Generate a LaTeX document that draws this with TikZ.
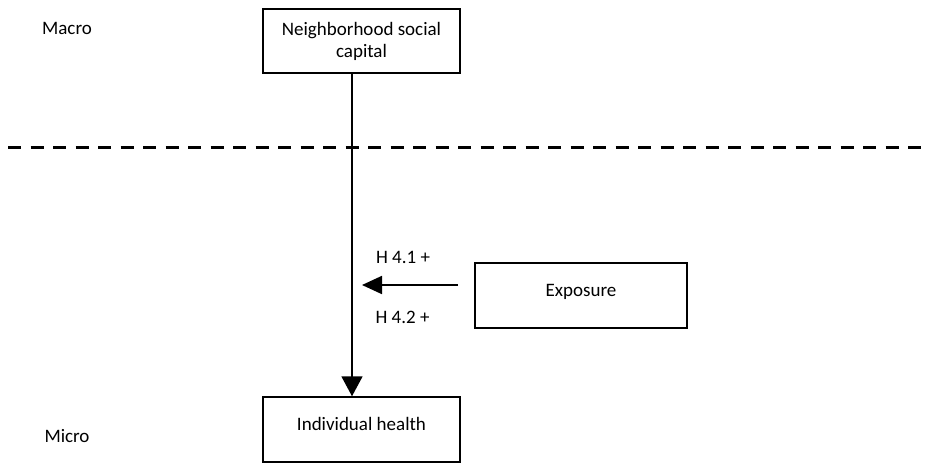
\documentclass[tikz,border=0pt]{standalone}
\usepackage{fontspec}
\setmainfont{Carlito}
\usetikzlibrary{arrows.meta}

\begin{document}
\begin{tikzpicture}[x=1pt,y=-1pt]
\tikzstyle{every node}+=[inner sep=0pt,font=\fontsize{19}{22}\selectfont]
\tikzstyle{box}=[draw=black,line width=1.5pt,minimum width=197pt,minimum height=64pt]
\tikzstyle{arr}=[black,line width=1.8pt,-{Triangle[length=20pt,width=21pt]}]
\useasboundingbox (0,0) rectangle (930,464);
\draw [black,line width=3pt,dash pattern=on 13pt off 9.5pt] (8,147) -- (930,147);
\node [box,align=center] (nbh) at (361.5,41) {Neighborhood social\\capital};
\node [box,minimum height=65pt,text height=12pt,text depth=10pt] (hlth) at (361.5,429.5) {Individual health};
\node [box,minimum width=212pt,minimum height=65pt,text height=12pt,text depth=10pt] (expo) at (581,295.5) {Exposure};
\node (macro) at (67,28) {Macro};
\node (micro) at (67,436) {Micro};
\coordinate (spine) at (352,0);
\coordinate (tail) at (458,285);
\coordinate (tip) at (362,285);
\draw [arr] (nbh.south -| spine) -- (hlth.north -| spine);
\draw [arr,-{Triangle[length=20pt,width=18pt]}] (tail) -- (tip);
\node (h41) at (403,257.5) {H 4.1 +};
\node (h42) at (402.5,317.5) {H 4.2 +};
\end{tikzpicture}
\end{document}
